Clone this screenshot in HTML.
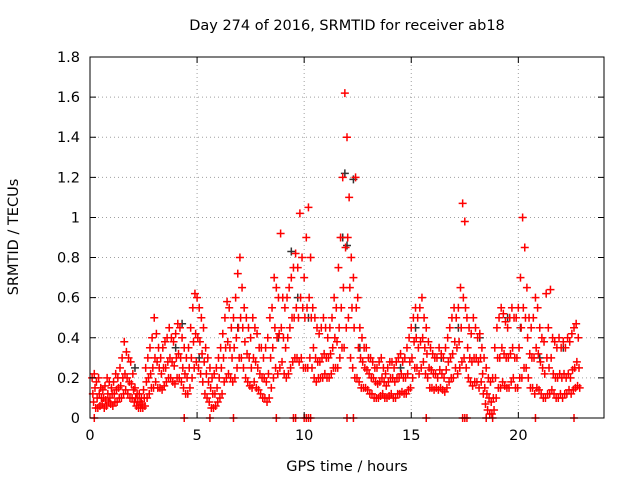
<!DOCTYPE html>
<html><head><meta charset="utf-8"><style>
body{margin:0;background:#fff;}
svg{display:block;font-family:"DejaVu Sans","Liberation Sans",sans-serif;}
</style></head><body>
<svg id="chart" width="640" height="480" viewBox="0 0 640 480">
<rect x="0" y="0" width="640" height="480" fill="#fff"/>
<g id="grid"></g>
<g id="pts"></g>
<rect x="90" y="57" width="514" height="361" fill="none" stroke="#000" stroke-width="1"/>
<g id="ticks"></g>
<text x="347" y="30" font-size="14.5" text-anchor="middle">Day 274 of 2016, SRMTID for receiver ab18</text>
<text x="347" y="471" font-size="14.5" text-anchor="middle">GPS time / hours</text>
<text x="0" y="0" font-size="14.5" text-anchor="middle" transform="translate(18,237) rotate(-90)">SRMTID / TECUs</text>
</svg>
<script>
const xTicks=[0,5,10,15,20];
const yTicks=[0,0.2,0.4,0.6,0.8,1,1.2,1.4,1.6,1.8];
const yTickLabels=["0","0.2","0.4","0.6","0.8","1","1.2","1.4","1.6","1.8"];
const hours=[];for(let i=1;i<=228;i++)hours.push(+(i*0.1).toFixed(1));
const hiVals=[.2,.22,.18,.2,.15,.14,.16,.2,.18,.15,.18,.22,.2,.25,.3,.38,.33,.3,.28,.22,.15,.12,.12,.1,.14,.25,.3,.35,.4,.5,.42,.35,.3,.35,.38,.4,.45,.4,.38,.42,.47,.45,.4,.35,.3,.35,.45,.55,.62,.6,.55,.5,.45,.35,.3,.25,.2,.22,.25,.3,.35,.42,.5,.58,.55,.45,.5,.6,.72,.8,.65,.55,.5,.45,.4,.5,.45,.42,.35,.35,.3,.35,.4,.5,.55,.7,.65,.6,.92,.6,.55,.6,.65,.7,.75,.82,.75,1.02,.8,.7,.9,1.05,.8,.55,.5,.45,.42,.45,.5,.45,.4,.45,.5,.6,.55,.75,.9,1.2,1.62,1.4,1.1,.8,.7,1.2,.6,.45,.4,.35,.35,.3,.3,.28,.25,.25,.28,.3,.25,.22,.25,.28,.28,.25,.28,.3,.32,.28,.3,.35,.4,.45,.5,.55,.5,.55,.6,.5,.45,.38,.35,.32,.3,.3,.35,.32,.3,.35,.4,.45,.5,.55,.5,.55,.65,1.07,.98,.5,.45,.42,.5,.45,.4,.42,.35,.3,.25,.2,.18,.2,.35,.45,.5,.55,.52,.48,.45,.5,.55,.5,.5,.55,.7,1.0,.85,.65,.5,.45,.5,.6,.55,.45,.4,.38,.62,.45,.64,.4,.38,.35,.4,.35,.38,.35,.4,.38,.42,.45,.47,.4];
const midVals=[.12,.15,.1,.12,.1,.1,.09,.12,.1,.12,.12,.14,.15,.16,.2,.22,.2,.18,.17,.14,.1,.08,.08,.07,.1,.18,.2,.22,.25,.3,.28,.25,.22,.25,.25,.28,.3,.28,.26,.3,.32,.3,.25,.22,.2,.25,.3,.38,.42,.4,.38,.32,.28,.22,.18,.15,.12,.12,.15,.2,.25,.3,.35,.38,.35,.3,.35,.4,.45,.5,.45,.38,.32,.3,.25,.3,.28,.25,.22,.2,.2,.18,.22,.3,.35,.45,.4,.42,.45,.4,.35,.4,.45,.5,.5,.55,.5,.6,.55,.5,.55,.6,.5,.35,.3,.28,.28,.3,.32,.3,.3,.32,.35,.4,.38,.45,.55,.65,.85,.9,.65,.55,.45,.55,.35,.3,.28,.25,.24,.22,.2,.2,.18,.17,.18,.2,.18,.16,.18,.2,.2,.18,.2,.2,.22,.2,.2,.22,.28,.3,.38,.4,.35,.38,.4,.35,.32,.25,.24,.22,.22,.2,.24,.22,.2,.24,.28,.3,.32,.38,.35,.38,.45,.6,.55,.35,.3,.28,.3,.3,.28,.3,.22,.15,.12,.1,.08,.1,.2,.3,.3,.35,.32,.3,.3,.32,.35,.3,.3,.35,.45,.55,.5,.4,.32,.3,.3,.35,.32,.28,.25,.22,.3,.25,.3,.22,.2,.2,.22,.2,.22,.2,.22,.2,.24,.25,.28,.25];
const loVals=[.08,.05,.05,.06,.07,.05,.06,.08,.07,.06,.08,.08,.1,.1,.12,.14,.12,.1,.1,.08,.06,.05,.05,.05,.06,.1,.12,.15,.15,.18,.15,.15,.14,.16,.18,.2,.2,.18,.17,.2,.2,.18,.15,.12,.12,.15,.2,.25,.28,.25,.22,.18,.12,.1,.08,.05,.05,.06,.08,.1,.12,.18,.2,.22,.2,.18,.2,.25,.3,.3,.25,.2,.18,.16,.15,.18,.15,.14,.12,.1,.1,.08,.1,.15,.2,.25,.22,.25,.28,.22,.2,.22,.25,.28,.3,.3,.28,.3,.25,.25,.25,.3,.25,.2,.18,.2,.2,.2,.22,.2,.2,.22,.25,.25,.25,.3,.35,.35,.45,.5,.3,.25,.2,.2,.18,.15,.15,.15,.14,.12,.12,.1,.1,.1,.11,.12,.1,.1,.11,.12,.1,.1,.12,.12,.13,.12,.12,.14,.15,.2,.25,.25,.22,.25,.28,.22,.2,.15,.15,.14,.15,.14,.15,.14,.13,.15,.18,.2,.2,.25,.22,.25,.28,.3,.25,.2,.18,.16,.18,.18,.15,.18,.12,.07,.04,.02,.02,.04,.1,.15,.15,.18,.16,.15,.15,.18,.2,.15,.15,.2,.2,.25,.25,.2,.15,.15,.12,.15,.14,.12,.1,.1,.12,.12,.14,.12,.1,.1,.12,.1,.12,.12,.14,.12,.14,.15,.16,.15];
const blackHours=[2.1,4.0,4.3,5.1,6.9,8.8,9.4,9.7,10.2,11.8,11.9,12.0,12.3,12.6,14.5,15.2,16.4,17.2,18.2,19.5,20.1,21.0,22.1];
const blackVals=[0.25,0.35,0.47,0.3,0.45,0.4,0.83,0.6,0.5,0.9,1.22,0.86,1.19,0.35,0.25,0.45,0.3,0.45,0.4,0.5,0.45,0.3,0.35];
const zeroHours=[0.2,4.4,5.6,6.7,8.7,9.5,9.6,10.0,10.1,10.2,10.3,12.0,12.3,15.7,17.4,17.5,17.6,18.5,18.8,20.8,22.6];
const zeroVals=[0,0,0,0,0,0,0,0,0,0,0,0,0,0,0,0,0,0,0,0,0];
const X0=90,X1=604,Y0=418,Y1=57,XMAX=24,YMAX=1.8;
const xs=h=>X0+(X1-X0)*h/XMAX, ys=v=>Y0-(Y0-Y1)*v/YMAX;
const NS="http://www.w3.org/2000/svg";
const grid=document.getElementById('grid'),ticks=document.getElementById('ticks'),pts=document.getElementById('pts');
function mk(tag,attrs,parent){const e=document.createElementNS(NS,tag);for(const k in attrs)e.setAttribute(k,attrs[k]);parent.appendChild(e);return e;}
xTicks.forEach(t=>{const x=xs(t);
 if(t>0){const g=mk('line',{x1:x,y1:Y1,x2:x,y2:Y0,stroke:'#a0a0a0','stroke-dasharray':'1,3'},grid);
 
 }
 const a=mk('path',{d:`M${x},${Y0}v-6M${x},${Y1}v6`,stroke:'#000'},ticks);
 
 
 const l=mk('text',{x:x,y:Y0+22,'font-size':14.5,'text-anchor':'middle'},ticks);l.textContent=t;
 
 });
yTicks.forEach((t,i)=>{const y=ys(t);
 if(i>0&&i<yTicks.length-1){const g=mk('line',{x1:X0,y1:y,x2:X1,y2:y,stroke:'#a0a0a0','stroke-dasharray':'1,3'},grid);
 
 }
 const a=mk('path',{d:`M${X0},${y}h6M${X1},${y}h-6`,stroke:'#000'},ticks);
 
 
 const l=mk('text',{x:X0-10,y:y+5,'font-size':14.5,'text-anchor':'end'},ticks);l.textContent=yTickLabels[i];
 
 });
function plus(h,v,col,name){const x=xs(h),y=ys(v);
 const p=mk('path',{d:`M${x-4},${y}h8M${x},${y-4}v8`,stroke:col,'stroke-width':1.5},pts);
 
 }
blackHours.forEach((h,i)=>plus(h,blackVals[i],'#333','black-point'));
hours.forEach((h,i)=>{plus(h,hiVals[i],'#f00','red-point-high');plus(h+0.033,midVals[i],'#f00','red-point-mid');plus(h+0.066,loVals[i],'#f00','red-point-low');});
zeroHours.forEach((h,i)=>plus(h,zeroVals[i],'#f00','zero-point'));
</script>
</body></html>
